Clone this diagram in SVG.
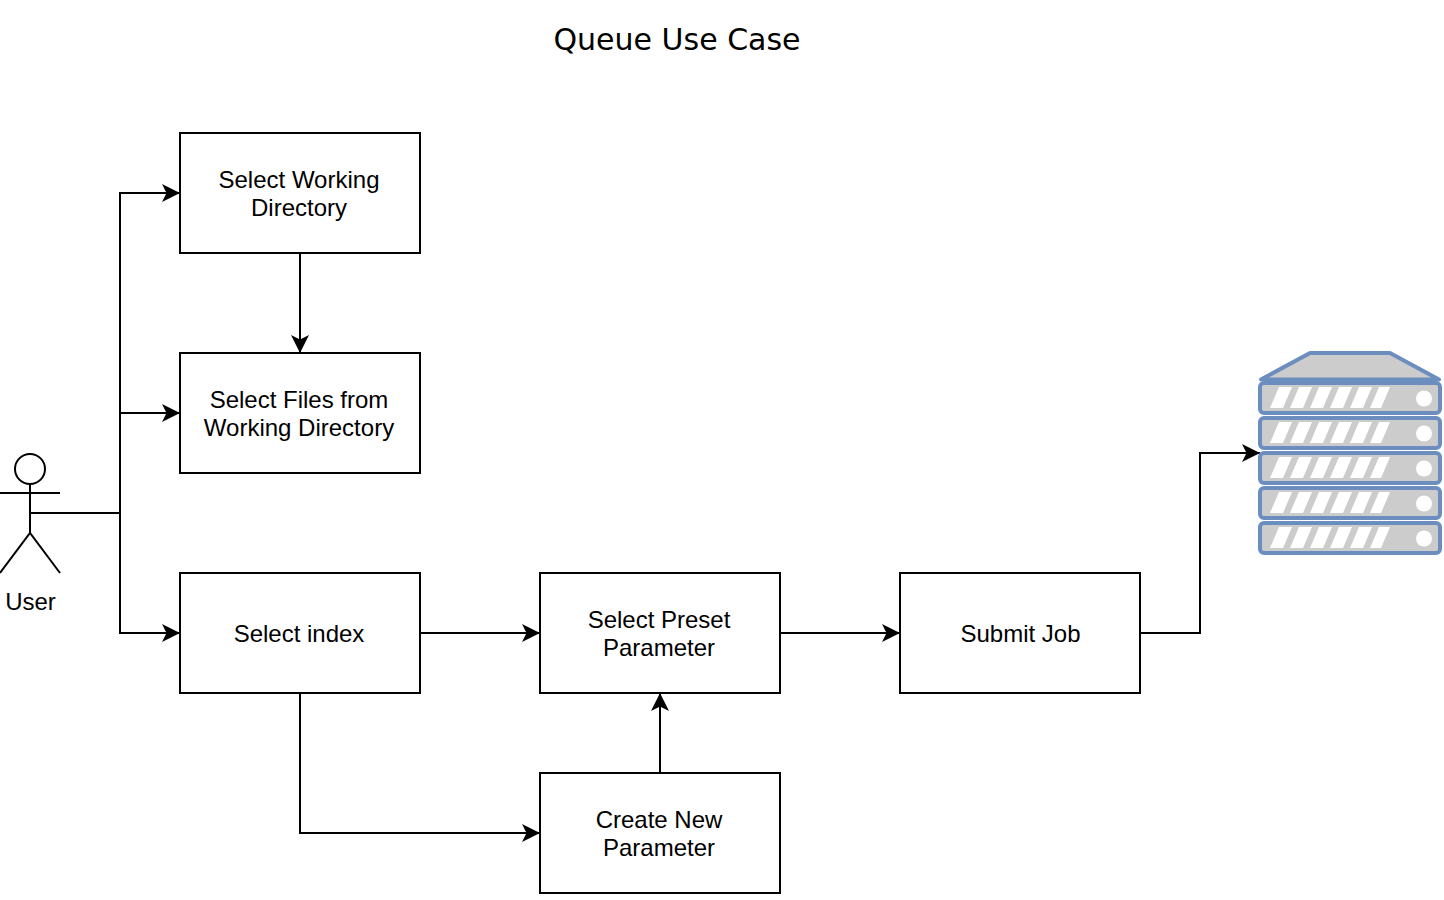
<svg xmlns="http://www.w3.org/2000/svg" xmlns:xlink="http://www.w3.org/1999/xlink" width="1444" height="900" viewBox="0 0 1444 900">
<style>
.box{fill:#fff;stroke:#000;stroke-width:2}
.lbl{font-family:"Liberation Sans",Arial,sans-serif;font-size:24px;fill:#000;text-anchor:middle}
.ttl{font-family:"DejaVu Sans",Verdana,sans-serif;font-size:30px;fill:#000;text-anchor:middle}
.edge{fill:none;stroke:#000;stroke-width:2}
.actor{fill:none;stroke:#000;stroke-width:2}
.unit{fill:#ccc;stroke:#6c8ebf;stroke-width:4;stroke-linejoin:round}
.stripe{fill:#fff}
</style>
<defs>
<marker id="arrow" markerUnits="userSpaceOnUse" markerWidth="18" markerHeight="18" viewBox="0 0 18 18" refX="18" refY="9" orient="auto">
<path d="M0 0L18 9L0 18L4.500 9Z" fill="#000"/>
</marker>
<g id="rack">
<rect class="unit" x="1260" y="0" width="180" height="30" rx="4"/>
<path class="stripe" d="M1270 25L1279 4H1292L1283 25ZM1290 25L1299 4H1312L1303 25ZM1310 25L1319 4H1332L1323 25ZM1330 25L1339 4H1352L1343 25ZM1350 25L1359 4H1372L1363 25ZM1370 25L1379 4H1390L1381 25Z"/>
<circle class="stripe" cx="1424" cy="15.500" r="8"/>
</g>
</defs>
<rect width="1444" height="900" fill="#fff"/>
<text class="ttl" x="677" y="50">Queue Use Case</text>
<g id="connectors">
<path class="edge" marker-end="url(#arrow)" d="M30 513H120V193H180"/>
<path class="edge" marker-end="url(#arrow)" d="M30 513H120V413H180"/>
<path class="edge" marker-end="url(#arrow)" d="M30 513H120V633H180"/>
<path class="edge" marker-end="url(#arrow)" d="M300 253V353"/>
<path class="edge" marker-end="url(#arrow)" d="M420 633H540"/>
<path class="edge" marker-end="url(#arrow)" d="M300 693V833H540"/>
<path class="edge" marker-end="url(#arrow)" d="M660 773V693"/>
<path class="edge" marker-end="url(#arrow)" d="M780 633H900"/>
<path class="edge" marker-end="url(#arrow)" d="M1140 633H1200V453H1260"/>
</g>
<g id="node-user">
<circle class="actor" cx="30" cy="469" r="15"/>
<path class="actor" d="M30 484V533M0 493H60M0 573L30 533L60 573"/>
<text class="lbl" x="30.500" y="610">User</text>
</g>
<g id="node-working-dir">
<rect class="box" x="180" y="133" width="240" height="120"/>
<text class="lbl" x="299" y="188">Select Working</text>
<text class="lbl" x="299" y="216">Directory</text>
</g>
<g id="node-files">
<rect class="box" x="180" y="353" width="240" height="120"/>
<text class="lbl" x="299" y="408">Select Files from</text>
<text class="lbl" x="299" y="436">Working Directory</text>
</g>
<g id="node-index">
<rect class="box" x="180" y="573" width="240" height="120"/>
<text class="lbl" x="299" y="642">Select index</text>
</g>
<g id="node-preset">
<rect class="box" x="540" y="573" width="240" height="120"/>
<text class="lbl" x="659" y="628">Select Preset</text>
<text class="lbl" x="659" y="656">Parameter</text>
</g>
<g id="node-new-param">
<rect class="box" x="540" y="773" width="240" height="120"/>
<text class="lbl" x="659" y="828">Create New</text>
<text class="lbl" x="659" y="856">Parameter</text>
</g>
<g id="node-submit">
<rect class="box" x="900" y="573" width="240" height="120"/>
<text class="lbl" x="1020.500" y="642">Submit Job</text>
</g>
<g id="node-server">
<path class="unit" d="M1261 379.500L1310 353H1390L1439 379.500Z"/>
<use xlink:href="#rack" y="383"/>
<use xlink:href="#rack" y="418"/>
<use xlink:href="#rack" y="453"/>
<use xlink:href="#rack" y="488"/>
<use xlink:href="#rack" y="523"/>
</g>
</svg>
